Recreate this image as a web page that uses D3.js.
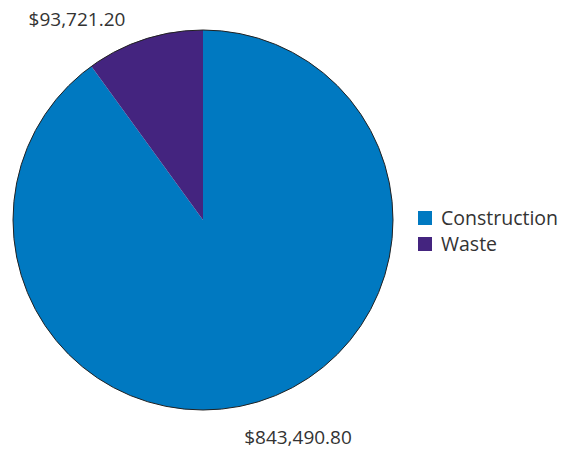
<!DOCTYPE html>
<html>
<head>
<meta charset="utf-8">
<script src="https://cdn.jsdelivr.net/npm/d3@7"></script>
<style>
  body { margin: 0; background: #fff; }
  svg text { font-family: "Open Sans", sans-serif; fill: #333; }
</style>
</head>
<body>
<svg id="chart" width="563" height="451"></svg>
<script>
'use strict';

const categories = ['Construction', 'Waste'];
const values = [843490.80, 93721.20];
const colors = ['#0079c1', '#44247f'];

const svg = d3.select('#chart');
const cx = 203, cy = 220, radius = 190;

const data = categories.map((c, i) => ({ label: c, value: values[i], color: colors[i] }));

const pie = d3.pie().sort(null).value(d => d.value);
const arc = d3.arc().innerRadius(0).outerRadius(radius);
const arcs = pie(data);

const g = svg.append('g').attr('transform', `translate(${cx},${cy})`);

g.selectAll('path.slice')
  .data(arcs)
  .join('path')
  .attr('class', 'slice')
  .attr('d', arc)
  .attr('fill', d => d.data.color);

// Thin dark outline only round the outside
g.append('circle')
  .attr('r', radius)
  .attr('fill', 'none')
  .attr('stroke', '#222')
  .attr('stroke-width', 1);

const fmt = v => '$' + d3.format(',.2f')(v);

// Value labels outside the pie (offsets from the centre)
const labelPos = [
  [95, 224],    // construction
  [-126, -194]  // waste
];
g.selectAll('text.value')
  .data(arcs)
  .join('text')
  .attr('class', 'value')
  .attr('font-size', 19)
  .attr('text-anchor', 'middle')
  .attr('x', (d, i) => labelPos[i][0])
  .attr('y', (d, i) => labelPos[i][1])
  .text(d => fmt(d.data.value));

// Legend
const legend = svg.append('g').attr('transform', 'translate(418,211)');
const item = legend.selectAll('g')
  .data(data)
  .join('g')
  .attr('transform', (d, i) => `translate(0,${i * 26})`);
item.append('rect')
  .attr('width', 14).attr('height', 14)
  .attr('fill', d => d.color);
item.append('text')
  .attr('x', 23).attr('y', 14)
  .attr('font-size', 19.5)
  .text(d => d.label);
</script>
</body>
</html>
